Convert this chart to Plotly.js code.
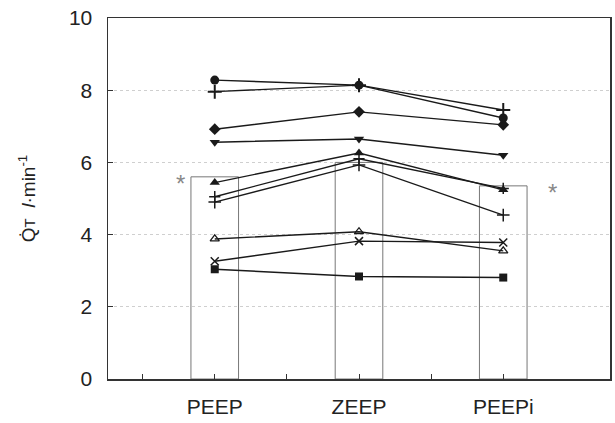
<!DOCTYPE html>
<html><head><meta charset="utf-8">
<script src="https://cdn.plot.ly/plotly-3.0.1.min.js"></script>
<style>body{margin:0;background:#fff}#c{width:615px;height:423px}</style>
</head><body><div id="c"></div>
<script>
const cats = ['PEEP', 'ZEEP', 'PEEPi'];
const means = [5.6, 6.0, 5.35];
const subjCircle = [8.28, 8.14, 7.23];
const subjPlus = [7.96, 8.14, 7.45];
const subjDiamond = [6.92, 7.40, 7.04];
const subjTriDown = [6.56, 6.65, 6.20];
const subjTriUp = [5.44, 6.26, 5.24];
const subjDash = [5.05, 6.10, 5.28];
const subjCross = [4.90, 5.93, 4.54];
const subjTriOpen = [3.88, 4.08, 3.55];
const subjX = [3.26, 3.82, 3.78];
const subjSquare = [3.04, 2.84, 2.81];
const yTicks = [0, 2, 4, 6, 8, 10];

const xi = cats.map((c, i) => i);
const ink = '#1a1a1a';
function subj(y, symbol, size, lw) {
  return {type: 'scatter', mode: 'lines+markers', x: xi, y: y,
    line: {color: ink, width: 1.4},
    marker: {symbol: symbol, size: size, color: ink, line: {color: ink, width: lw || 0}},
    hoverinfo: 'skip', showlegend: false};
}
const data = [
  {type: 'bar', x: xi, y: means, width: 0.33,
   marker: {color: 'rgba(255,255,255,0)', line: {color: '#777', width: 1}},
   showlegend: false, hoverinfo: 'skip'},
  subj(subjSquare, 'square', 8),
  subj(subjX, 'x-thin', 8, 1.5),
  subj(subjTriOpen, 'triangle-up-open', 8, 1.3),
  subj(subjCross, 'cross-thin', 9, 1.5),
  subj(subjDash, 'cross-thin', 8, 1.5),
  subj(subjTriUp, 'triangle-up', 9),
  subj(subjTriDown, 'triangle-down', 9),
  subj(subjDiamond, 'diamond', 9),
  subj(subjPlus, 'cross-thin', 10, 2),
  subj(subjCircle, 'circle', 9)
];
const layout = {
  width: 615, height: 423,
  margin: {l: 108, r: 5, t: 18, b: 44},
  paper_bgcolor: '#fff', plot_bgcolor: '#fff',
  font: {family: 'Liberation Sans, Arial, sans-serif', color: '#222'},
  xaxis: {type: 'linear', range: [-0.74, 2.74],
    tickmode: 'array', tickvals: xi, ticktext: cats,
    ticks: 'inside', ticklen: 5, tickcolor: '#333',
    minor: {tickmode: 'array', tickvals: [-0.5, 0.5, 1.5], ticks: 'inside', ticklen: 5,
      tickcolor: '#333', showgrid: false},
    showgrid: false, zeroline: false,
    showline: true, linecolor: '#333', linewidth: 1.5, mirror: true,
    tickfont: {size: 21, color: '#222'}, ticklabelstandoff: 8},
  yaxis: {range: [0, 10], tickvals: yTicks,
    ticks: 'inside', ticklen: 5, tickcolor: '#333',
    showgrid: true, gridcolor: '#cfcfcf', griddash: 'dot', gridwidth: 1.2,
    zeroline: false,
    showline: true, linecolor: '#333', linewidth: 1.5, mirror: true,
    tickfont: {size: 21, color: '#222'}, ticklabelstandoff: 10,
    title: {text: 'Q\u0307<span style="font-size:15px">T</span>  <i>l</i>\u00b7min<sup>-1</sup>',
      font: {size: 19, color: '#222'}, standoff: 28}},
  annotations: [
    {x: -0.24, y: 5.6, xref: 'x', yref: 'y', text: '*', showarrow: false,
     font: {size: 24, color: '#888'}, yanchor: 'middle', yshift: -7},
    {x: 2.34, y: 5.35, xref: 'x', yref: 'y', text: '*', showarrow: false,
     font: {size: 24, color: '#888'}, yanchor: 'middle', yshift: -7}
  ]
};
Plotly.newPlot('c', data, layout, {staticPlot: true, displayModeBar: false});
</script></body></html>
